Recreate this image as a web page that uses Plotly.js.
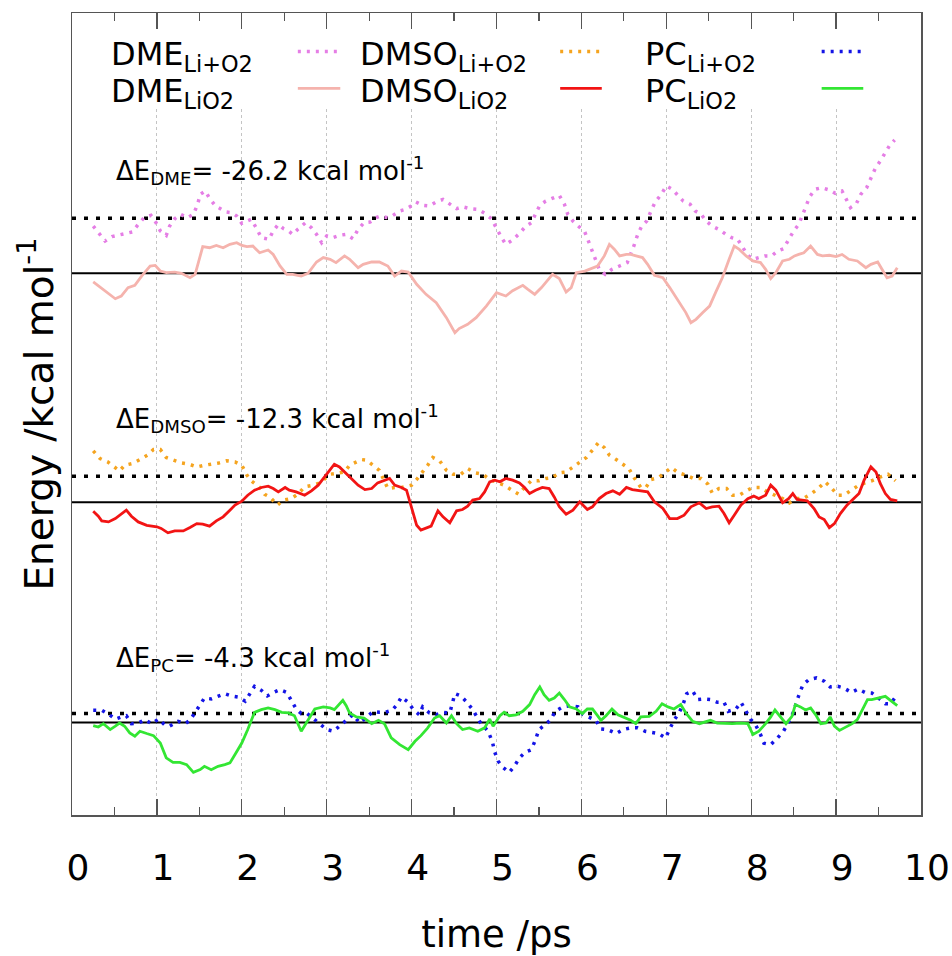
<!DOCTYPE html>
<html><head><meta charset="utf-8">
<script src="https://cdn.plot.ly/plotly-3.0.1.min.js"></script>
<style>html,body{margin:0;padding:0;background:#fff}#chart{width:952px;height:956px}</style>
</head><body><div id="chart"></div>
<script>
// ---- data (time in ps, energies in kcal/mol relative to the LiO2 average) ----
const solvents = ['DME', 'DMSO', 'PC'];
const deltaE = [-26.2, -12.3, -4.3];
const stackOffset = [258, 149, 44];   // vertical stacking of the three panels
const xTickVals = [0, 1, 2, 3, 4, 5, 6, 7, 8, 9, 10];

const dmeLiO2_t = [0.25,0.37,0.51,0.58,0.66,0.74,0.82,0.92,0.98,1.04,1.11,1.21,1.29,1.39,1.45,1.54,1.62,1.70,1.78,1.86,1.94,2.00,2.06,2.13,2.21,2.31,2.37,2.45,2.53,2.60,2.70,2.78,2.88,2.96,3.04,3.11,3.21,3.27,3.37,3.43,3.53,3.62,3.72,3.80,3.88,3.96,4.06,4.17,4.29,4.41,4.51,4.56,4.66,4.76,4.88,5.00,
  5.11,5.19,5.31,5.37,5.45,5.53,5.66,5.74,5.82,5.88,5.94,6.04,6.11,6.19,6.27,6.33,6.39,6.45,6.53,6.58,6.72,6.78,6.86,6.96,7.04,7.15,7.23,7.29,7.35,7.43,7.51,7.58,7.66,7.74,7.80,7.86,7.94,8.02,8.11,8.17,8.23,8.29,8.37,8.45,8.51,8.56,8.62,8.70,8.78,8.84,8.92,9.00,9.07,9.15,9.25,9.35,9.41,9.49,9.55,9.60,9.66,9.72];
const dmeLiO2_E = [-4.1,-7.6,-12.1,-10.8,-6.8,-5.7,-1.3,3.5,3.8,1.1,0.3,0.6,0,-2.1,-0.5,12.7,12.2,13.3,12.2,13.8,14.6,13.3,12.7,13.0,9.8,11.1,9.0,3.5,-0.5,-0.5,-1.3,0,5.4,7.5,6.7,5.1,8.3,6.7,2.7,4.3,5.4,5.4,3.5,-1.3,1.1,0.6,-5.2,-10,-14,-21.1,-28.3,-26.3,-24.3,-21.1,-15.6,-9.2,
  -10.8,-8.3,-5.7,-7.6,-10,-6.8,-0.5,-2.5,-8.9,-6.8,0.3,1.1,2.2,3.5,8.3,13.8,11.4,8.3,9.0,9.0,7.5,4.3,-0.9,-2.1,-6.8,-14,-18.7,-23.5,-21.9,-18.7,-15.6,-9.2,-2.1,6.7,13.0,11.4,8.3,5.9,5.1,1.9,-2.5,0.3,5.9,6.7,8.3,9.0,9.8,13.0,9.0,8.3,8.6,8.0,9.0,6.7,5.9,2.7,4.3,5.4,1.1,-2.1,-1.3,2.7];

const dmeLiplusO2_t = [0.25,0.32,0.39,0.47,0.55,0.64,0.71,0.78,0.85,0.93,0.99,1.04,1.11,1.15,1.21,1.28,1.36,1.43,1.48,1.51,1.57,1.62,1.69,1.76,1.82,1.88,1.94,2.00,2.06,2.11,2.17,2.23,2.32,2.37,2.43,2.49,2.55,2.60,2.66,2.75,2.82,2.88,2.94,3.00,3.07,3.15,3.23,3.31,3.37,3.44,3.51,3.58,3.63,3.72,3.78,3.86,3.93,3.98,4.05,4.13,4.21,4.29,4.37,4.45,4.53,4.60,4.69,4.78,4.86,4.94,5.00,5.06,5.11,
  5.19,5.26,5.34,5.41,5.46,5.51,5.58,5.66,5.74,5.80,5.84,5.90,5.97,6.04,6.09,6.13,6.17,6.21,6.28,6.36,6.45,6.54,6.62,6.66,6.71,6.77,6.82,6.87,6.94,7.00,7.07,7.14,7.20,7.28,7.34,7.41,7.47,7.54,7.62,7.70,7.77,7.84,7.90,7.96,8.02,8.09,8.16,8.24,8.31,8.38,8.44,8.50,8.56,8.60,8.65,8.69,8.75,8.83,8.92,8.99,9.07,9.12,9.17,9.24,9.29,9.36,9.41,9.46,9.52,9.57,9.63,9.69];
const dmeLiplusO2_E = [22.5,18.6,15.4,17.5,18.1,19.0,19.7,23.3,26.5,27.6,24.1,20.2,18.1,22.5,26.0,28.1,26.5,28.1,32.9,37.6,39.2,35.7,32.1,30.5,29.2,28.9,27.3,23.8,24.9,25.7,21.7,17.0,16.2,20.2,23.3,21.3,20.2,18.6,21.0,24.1,21.7,18.6,14.6,17.8,17.0,18.1,18.6,16.5,21.0,24.1,24.4,26.5,27.3,26.5,27.6,29.7,30.5,31.7,34.0,32.4,32.1,34.0,35.2,32.9,30.8,31.7,30.8,30.5,28.6,26.0,21.3,17.0,13.8,
  15.9,18.6,22.2,24.1,28.1,32.4,34.4,35.9,37.1,32.9,28.1,24.9,22.5,19.7,14.6,10.6,5.9,1.9,-0.5,1.9,3.5,5.1,13.3,18.1,22.5,24.9,29.7,34.0,37.6,41.6,40.0,37.1,34.4,32.9,29.7,28.1,24.9,22.5,20.9,18.6,17.0,16.2,12.2,8.6,6.7,7.5,8.3,8.3,10.6,11.7,16.2,20.2,23.3,27.3,32.4,36.5,40.0,40.8,39.7,38.1,39.2,35.2,31.3,33.3,37.6,40.8,45.6,49.8,53.5,57.1,60.9,63.5];

const dmsoLiO2_t = [0.25,0.31,0.35,0.43,0.51,0.58,0.64,0.70,0.78,0.88,1.00,1.05,1.13,1.21,1.31,1.39,1.47,1.54,1.62,1.70,1.78,1.86,1.92,2.00,2.07,2.15,2.23,2.31,2.37,2.43,2.51,2.56,2.64,2.74,2.82,2.90,2.96,3.02,3.09,3.15,3.21,3.29,3.37,3.45,3.53,3.60,3.68,3.74,3.80,3.88,3.94,4.00,4.06,4.11,4.17,4.23,4.31,4.37,4.45,4.53,4.60,4.66,4.72,4.80,4.86,4.92,4.98,5.04,5.11,
  5.19,5.27,5.33,5.39,5.46,5.54,5.62,5.68,5.74,5.82,5.90,5.98,6.07,6.13,6.21,6.29,6.37,6.45,6.53,6.60,6.68,6.78,6.86,6.96,7.04,7.13,7.21,7.29,7.39,7.47,7.54,7.62,7.68,7.74,7.80,7.88,7.96,8.03,8.09,8.17,8.23,8.29,8.37,8.44,8.49,8.54,8.60,8.66,8.74,8.80,8.86,8.92,8.98,9.05,9.13,9.21,9.27,9.33,9.41,9.47,9.52,9.58,9.64,9.72];
const dmsoLiO2_E = [-4.3,-6.7,-8.9,-9.4,-7.8,-5.7,-3.8,-6.7,-9.4,-11.0,-11.7,-12.5,-14.6,-13.7,-13.7,-12.1,-10.2,-10.5,-11.4,-8.9,-7.0,-3.8,-1.4,0.5,3.3,5.7,7.0,7.6,6.5,4.9,7.0,5.7,4.9,3.3,5.4,8.1,11.3,14.4,18.1,16.8,14.4,11.3,8.1,6.0,6.5,9.2,10.2,11.3,8.1,7.0,5.7,-3.0,-11.0,-13.3,-12.5,-11.4,-4.1,-7.0,-9.8,-4.1,-3.5,-1.9,1.0,1.7,4.9,9.7,10.5,9.7,11.3,
  10.5,9.2,7.0,4.1,5.7,7.0,6.5,2.5,-2.2,-5.7,-3.8,0.2,-3.5,-2.2,1.7,4.1,5.4,3.8,7.0,6.0,5.4,4.9,0.2,-3.0,-7.8,-7.8,-6.2,-2.2,-0.3,-3.0,-2.2,-1.9,-5.4,-9.8,-6.2,-1.3,1.7,2.9,1.7,3.3,8.1,5.7,-0.3,1.7,4.1,1.3,1.0,0.6,-3.0,-7.0,-8.3,-12.1,-10.2,-5.4,-1.3,1.7,4.1,10.5,16.8,14.4,8.9,4.1,1.3,0.6];

const dmsoLiplusO2_t = [0.25,0.33,0.42,0.49,0.56,0.62,0.71,0.80,0.89,0.96,1.04,1.11,1.21,1.29,1.38,1.47,1.56,1.65,1.73,1.82,1.92,2.00,2.06,2.11,2.21,2.27,2.33,2.42,2.49,2.58,2.66,2.74,2.84,2.92,2.98,3.04,3.11,3.21,3.27,3.35,3.41,3.47,3.55,3.62,3.72,3.80,3.88,4.00,4.06,4.13,4.19,4.25,4.33,4.41,4.49,4.58,4.66,4.75,4.84,4.92,5.00,5.09,
  5.17,5.26,5.33,5.41,5.50,5.58,5.66,5.74,5.82,5.90,5.98,6.06,6.13,6.20,6.27,6.33,6.41,6.49,6.56,6.62,6.70,6.76,6.82,6.91,6.99,7.06,7.14,7.23,7.32,7.41,7.49,7.54,7.62,7.71,7.78,7.86,7.94,8.02,8.11,8.19,8.28,8.37,8.45,8.52,8.61,8.70,8.79,8.87,8.94,9.02,9.09,9.17,9.25,9.34,9.42,9.50,9.61,9.70];
const dmsoLiplusO2_E = [24.4,20.8,19.2,16.8,14.9,17.6,18.4,20.3,22.4,25.1,25.1,21.3,20.0,18.7,18.1,16.8,17.6,18.1,18.7,19.7,19.2,17.6,12.9,10.2,7.0,3.7,2.5,-1.4,1.0,1.7,3.8,7.3,8.1,9.2,11.3,13.3,13.7,14.4,17.6,19.2,20.3,20.0,17.6,15.2,6.5,7.0,7.0,8.1,10.8,14.4,17.6,21.3,19.7,15.2,13.3,13.3,16.0,14.0,13.3,10.8,9.7,8.1,
  6.0,3.8,7.0,10.2,10.2,11.3,11.7,14.0,14.4,16.8,19.2,21.3,24.8,28.3,26.0,22.4,20.3,18.1,16.0,11.7,7.0,7.0,10.8,11.7,14.0,16.5,14.0,12.9,11.3,11.3,8.6,4.4,6.5,6.5,3.3,3.3,5.4,7.0,7.0,4.9,3.3,1.7,-0.3,1.7,1.7,3.8,6.5,9.7,7.0,3.3,3.3,5.4,7.6,9.2,10.2,11.7,13.3,10.2];

const pcLiO2_t = [0.25,0.31,0.37,0.45,0.51,0.56,0.62,0.68,0.74,0.80,0.88,0.96,1.04,1.11,1.19,1.27,1.35,1.43,1.51,1.56,1.64,1.72,1.80,1.86,1.92,2.00,2.07,2.15,2.23,2.31,2.39,2.47,2.55,2.62,2.70,2.78,2.86,2.96,3.04,3.09,3.15,3.19,3.23,3.27,3.35,3.44,3.53,3.61,3.68,3.76,3.86,3.96,4.04,4.11,4.19,4.27,4.33,4.41,4.47,4.53,4.60,4.68,4.78,4.86,4.92,4.96,
  5.04,5.09,5.15,5.23,5.31,5.39,5.45,5.51,5.56,5.62,5.68,5.74,5.80,5.86,5.94,6.01,6.07,6.13,6.19,6.23,6.29,6.36,6.43,6.51,6.58,6.64,6.70,6.80,6.88,6.95,7.02,7.09,7.17,7.23,7.31,7.39,7.44,7.52,7.60,7.70,7.78,7.88,7.96,8.02,8.09,8.17,8.23,8.28,8.35,8.41,8.48,8.52,8.58,8.64,8.70,8.76,8.82,8.88,8.93,8.98,9.04,9.12,9.19,9.25,9.31,9.37,9.42,9.50,9.58,9.64,9.72];
const pcLiO2_E = [-1.4,-2.1,-0.5,-3.3,-1.7,-0.2,-1.7,-4.9,-6.5,-4.1,-5.2,-6.2,-9.7,-16.8,-18.9,-18.9,-20.0,-23.7,-22.4,-20.8,-22.4,-20.8,-20.0,-19.2,-15.2,-9.7,-3.3,4.9,6.2,7.0,6.2,4.9,4.6,3.3,-4.1,1.4,6.5,7.5,7.0,6.2,8.6,10.6,8.1,4.6,2.7,2.2,-0.5,1.1,-0.5,-7.3,-10.5,-12.9,-8.9,-6.2,-2.5,2.2,3.3,-0.2,3.3,-0.5,-3.3,-2.5,-4.1,-2.5,1.7,-1.7,
  3.3,4.9,3.3,3.7,5.4,8.6,13.3,17.0,13.3,10.6,11.7,14.1,11.0,7.5,6.5,4.3,6.5,6.5,3.3,1.1,3.3,6.5,3.7,2.2,1.1,-0.5,2.7,3.0,5.4,9.0,7.5,6.5,8.6,4.6,0.6,-0.5,0,1.1,-0.2,-0.5,-0.5,-0.2,-0.5,-5.7,-4.1,-0.5,2.7,6.0,2.7,-0.5,3.0,8.6,7.5,6.0,7.0,3.7,-0.5,-0.2,2.7,-1.7,-3.7,-2.1,-0.5,1.4,6.2,11.0,11.0,11.7,12.5,10.6,8.1];

const pcLiplusO2_t = [0.25,0.35,0.44,0.51,0.58,0.64,0.70,0.78,0.86,0.94,1.02,1.09,1.15,1.25,1.33,1.39,1.45,1.51,1.56,1.64,1.72,1.80,1.88,1.96,2.04,2.09,2.15,2.23,2.30,2.37,2.45,2.53,2.58,2.64,2.70,2.77,2.85,2.92,3.00,3.08,3.15,3.23,3.31,3.39,3.47,3.55,3.62,3.69,3.77,3.83,3.88,3.96,4.02,4.09,4.13,4.21,4.29,4.37,4.45,4.51,4.58,4.64,4.72,4.80,4.90,4.95,4.98,5.02,5.07,
  5.15,5.21,5.27,5.34,5.41,5.46,5.50,5.56,5.64,5.69,5.78,5.88,5.96,6.02,6.09,6.17,6.23,6.31,6.41,6.49,6.58,6.66,6.75,6.84,6.91,6.99,7.04,7.09,7.15,7.20,7.24,7.31,7.37,7.45,7.52,7.60,7.68,7.73,7.82,7.88,7.94,7.99,8.05,8.11,8.15,8.23,8.31,8.38,8.44,8.49,8.56,8.61,8.68,8.77,8.86,8.93,9.02,9.09,9.18,9.26,9.34,9.42,9.50,9.58,9.64,9.70];
const pcLiplusO2_E = [5.9,5.9,3.8,1.7,2.7,3.3,-0.5,-0.2,1.4,-0.5,1.7,-1.0,-1.7,0.6,-0.5,1.1,4.9,8.6,11.7,11.3,12.7,13.8,12.7,12.2,10.2,13.3,17.3,15.4,12.7,14.3,15.7,14.4,10.6,6.5,4.3,4.3,1.7,-0.5,-3.3,-4.1,-1.7,1.1,3.8,-0.2,2.7,5.4,4.9,4.9,5.9,8.6,12.2,9.7,6.2,3.8,7.5,4.6,3.8,4.9,4.6,13.8,12.7,10.2,6.2,0.6,-4.1,-8.9,-14.1,-18.4,-21.1,
  -23.7,-20.8,-16.8,-14.1,-12.9,-8.1,-3.3,-1.4,1.4,5.4,7.5,8.1,7.5,3.8,2.7,1.1,-3.0,-3.3,-5.2,-3.3,-2.5,-2.5,-4.1,-4.9,-5.2,-7.3,-3.0,1.1,4.6,9.0,13.8,15.1,11.0,11.3,11.0,9.7,9.7,5.4,6.5,9.7,5.4,1.7,-1.0,-5.7,-9.8,-10.5,-7.3,-4.1,0.2,4.3,12.9,18.1,20.5,21.3,19.7,17.0,17.3,16.5,14.4,16.0,14.4,14.1,11.7,9.0,9.0,12.2];

// ---- styling ----
const FONT = 'DejaVu Sans, Verdana, sans-serif';
const series = [
  {t: dmeLiplusO2_t,  E: dmeLiplusO2_E,  panel: 0, state: 'Li+O2', color: '#e57ee5'},
  {t: dmeLiO2_t,      E: dmeLiO2_E,      panel: 0, state: 'LiO2',  color: '#f5b3ad'},
  {t: dmsoLiplusO2_t, E: dmsoLiplusO2_E, panel: 1, state: 'Li+O2', color: '#f5a41f'},
  {t: dmsoLiO2_t,     E: dmsoLiO2_E,     panel: 1, state: 'LiO2',  color: '#f21414'},
  {t: pcLiplusO2_t,   E: pcLiplusO2_E,   panel: 2, state: 'Li+O2', color: '#1414e6'},
  {t: pcLiO2_t,       E: pcLiO2_E,       panel: 2, state: 'LiO2',  color: '#33e633'}
];
const dotDash = '3px,6px';

const traces = [];
// reference levels: LiO2 average (solid) and Li+O2 average (dotted)
solvents.forEach((s, i) => {
  const off = stackOffset[i];
  traces.push({x: [xTickVals[0], xTickVals[xTickVals.length - 1]], y: [off, off], mode: 'lines',
    line: {color: '#000', width: 2}, hoverinfo: 'skip', showlegend: false});
  traces.push({x: [xTickVals[0], xTickVals[xTickVals.length - 1]], y: [off - deltaE[i], off - deltaE[i]], mode: 'lines',
    line: {color: '#000', width: 3.5, dash: '4px,8px'}, hoverinfo: 'skip', showlegend: false});
});
series.forEach(s => {
  const off = stackOffset[s.panel];
  traces.push({
    x: s.t, y: s.E.map(v => v + off), mode: 'lines',
    name: solvents[s.panel] + '<sub>' + s.state + '</sub>',
    line: s.state === 'Li+O2' ? {color: s.color, width: 3.5, dash: dotDash} : {color: s.color, width: 2.8},
    showlegend: false
  });
});

// custom key (label text followed by sample line, as in the original)
const keyCols = [0.044, 0.337, 0.673];
const keySample = [[0.266, 0.316], [0.575, 0.624], [0.883, 0.932]];
const keyRowsY = {'Li+O2': 0.946, 'LiO2': 0.900};
const annotations = [];
const shapes = [
  {type: 'rect', xref: 'x', yref: 'y', x0: 0, x1: 10, y0: 337, y1: 382, layer: 'between',
   fillcolor: '#fff', line: {width: 0}}
];
series.forEach(s => {
  const yk = keyRowsY[s.state];
  annotations.push({xref: 'paper', yref: 'paper', x: keyCols[s.panel], y: yk, xanchor: 'left', yanchor: 'middle',
    showarrow: false, text: solvents[s.panel] + '<sub>' + s.state + '</sub>', font: {family: FONT, size: 32, color: '#000'}});
  shapes.push({type: 'line', xref: 'paper', yref: 'paper', x0: keySample[s.panel][0], x1: keySample[s.panel][1],
    y0: yk + 0.006, y1: yk + 0.006,
    line: s.state === 'Li+O2' ? {color: s.color, width: 3.5, dash: dotDash} : {color: s.color, width: 2.8}});
});
// ΔE labels
const dELabelY = [307, 189, 75];
solvents.forEach((s, i) => {
  annotations.push({xref: 'x', yref: 'y', x: 0.5, y: dELabelY[i], xanchor: 'left', yanchor: 'middle', showarrow: false,
    text: 'ΔE<sub>' + s + '</sub>= ' + deltaE[i].toFixed(1) + ' kcal mol<sup>-1</sup>',
    font: {family: FONT, size: 26, color: '#000'}});
});

const layout = {
  width: 952, height: 956,
  margin: {l: 72, r: 31, t: 13, b: 141},
  paper_bgcolor: '#fff', plot_bgcolor: '#fff',
  font: {family: FONT, color: '#000'},
  showlegend: false,
  xaxis: {
    range: [0, 10], tickvals: xTickVals, ticktext: xTickVals.map(String),
    ticks: 'inside', ticklen: 16, tickwidth: 1.2, tickcolor: '#555',
    minor: {ticks: 'inside', ticklen: 8, dtick: 0.5, tickwidth: 1.2, tickcolor: '#555', showgrid: false},
    showline: true, linecolor: '#555', linewidth: 1.5, mirror: 'ticks',
    showgrid: true, gridcolor: '#c4c4c4', griddash: 'dot', gridwidth: 1,
    zeroline: false,
    tickfont: {family: FONT, size: 36, color: '#000'},
    ticklabelstandoff: 20, ticklabelshift: 6,
    automargin: false,
    title: {text: 'time /ps', font: {family: FONT, size: 37, color: '#000'}, standoff: 38}
  },
  yaxis: {
    range: [0, 382], showticklabels: false, ticks: '',
    showline: true, linecolor: '#555', linewidth: 1.5, mirror: true,
    showgrid: false, zeroline: false, automargin: false,
    title: {text: 'Energy /kcal mol<sup>-1</sup>', font: {family: FONT, size: 39, color: '#000'}, standoff: 5}
  },
  annotations: annotations,
  shapes: shapes
};

Plotly.newPlot('chart', traces, layout, {staticPlot: true, displayModeBar: false});
</script>
</body></html>
